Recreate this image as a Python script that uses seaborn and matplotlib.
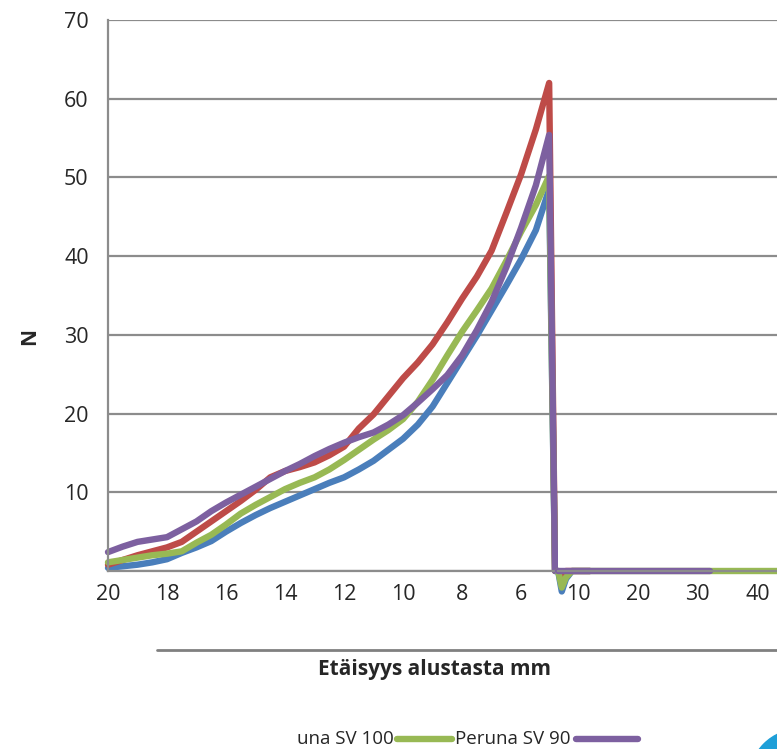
"""
Force vs. distance curves (Peruna SV), redrawn with seaborn.
Left part: distance from base (mm, decreasing), right part: continuation scale.
"""

import matplotlib
matplotlib.use('Agg')
import pandas as pd
import matplotlib.pyplot as plt
import seaborn as sns
from matplotlib.lines import Line2D
from matplotlib.patches import Ellipse

# Data (distance mm -> force N)
dist_mm = [20, 19.5, 19, 18.5, 18, 17.5, 17, 16.5, 16, 15.5, 15, 14.5, 14, 13.5, 13,
           12.5, 12, 11.5, 11, 10.5, 10, 9.5, 9, 8.5, 8, 7.5, 7, 6.5, 6, 5.5, 5.05, 4.85]
blue_n = [0.4, 0.6, 0.8, 1.1, 1.5, 2.3, 3.0, 3.8, 5.0, 6.1, 7.1, 8.0, 8.8, 9.6, 10.4,
          11.2, 11.9, 12.9, 14.0, 15.4, 16.8, 18.6, 20.9, 23.9, 26.9, 29.9, 33.1, 36.3, 39.6, 43.3, 48.5, 0.0]
red_n = [0.8, 1.4, 2.0, 2.5, 3.0, 3.7, 5.0, 6.3, 7.6, 8.9, 10.3, 11.9, 12.7, 13.2, 13.8,
         14.7, 15.8, 18.1, 19.9, 22.2, 24.5, 26.5, 28.8, 31.6, 34.6, 37.4, 40.7, 45.5, 50.4, 56.1, 62.0, 0.0]
green_n = [1.1, 1.4, 1.7, 2.0, 2.2, 2.5, 3.6, 4.6, 5.9, 7.3, 8.4, 9.4, 10.4, 11.2, 11.9,
           12.9, 14.1, 15.4, 16.7, 17.9, 19.3, 21.5, 24.3, 27.4, 30.4, 33.1, 35.9, 39.4, 43.1, 46.5, 50.2, 0.0]
purple_n = [2.4, 3.1, 3.7, 4.0, 4.3, 5.3, 6.3, 7.6, 8.7, 9.7, 10.7, 11.7, 12.7, 13.6, 14.6,
            15.5, 16.3, 17.0, 17.6, 18.6, 19.8, 21.4, 23.1, 24.9, 27.4, 30.6, 34.2, 38.6, 43.6, 49.0, 55.4, 0.0]

# continuation after the break
tail_x = [6.7, 7.3, 8.0, 9.0, 12.0]
blue_tail = [0.0, -2.6, -1.0, 0.0, 0.0]
red_tail = [0.0, -0.4, 0.0, 0.0, 0.0]
green_tail_x = [6.7, 7.3, 8.0, 9.0, 44.0]
green_tail = [0.0, -2.1, -0.8, 0.0, 0.0]
purple_tail_x = [6.7, 32.0]
purple_tail = [0.0, 0.0]

series_names = ["Peruna SV 110", "Peruna SV 100", "Peruna SV 90", "Peruna SV 80"]
series_colors = ["#4a7ebb", "#be4b48", "#98b954", "#7d60a0"]

y_ticks = [0, 10, 20, 30, 40, 50, 60, 70]
y_tick_labels = ["", "10", "20", "30", "40", "50", "60", "70"]
left_ticks = [20, 18, 16, 14, 12, 10, 8, 6]
right_ticks = [10, 20, 30, 40]
legend_labels = ["una SV 100", "Peruna SV 90"]

GRID = "#8c8c8c"
TEXT = "#262626"
LW = 4.6

sns.set_style("white")
plt.rcParams['font.family'] = ['Open Sans', 'DejaVu Sans']

# long-form tables
left_df = pd.concat([
    pd.DataFrame({"d": dist_mm, "N": vals, "sarja": name})
    for name, vals in zip(series_names, [blue_n, red_n, green_n, purple_n])
])
right_df = pd.concat([
    pd.DataFrame({"d": tail_x, "N": blue_tail, "sarja": series_names[0]}),
    pd.DataFrame({"d": tail_x, "N": red_tail, "sarja": series_names[1]}),
    pd.DataFrame({"d": green_tail_x, "N": green_tail, "sarja": series_names[2]}),
    pd.DataFrame({"d": purple_tail_x, "N": purple_tail, "sarja": series_names[3]}),
])
palette = dict(zip(series_names, series_colors))

W, H = 777, 749
fig = plt.figure(figsize=(W / 100, H / 100), dpi=100)
x0, xb, y0, y1 = 108, 558, 571, 20
ax_l = fig.add_axes([x0 / W, 1 - y0 / H, (xb - x0) / W, (y0 - y1) / H])
ax_r = fig.add_axes([xb / W, 1 - y0 / H, (W - xb) / W, (y0 - y1) / H])

sns.lineplot(data=left_df, x="d", y="N", hue="sarja", palette=palette,
             estimator=None, sort=False, linewidth=LW, legend=False, ax=ax_l)
sns.lineplot(data=right_df, x="d", y="N", hue="sarja", palette=palette,
             estimator=None, sort=False, linewidth=LW, legend=False, ax=ax_r)

for ax in (ax_l, ax_r):
    ax.set_ylim(0, 70)
    ax.set_yticks(y_ticks)
    ax.grid(axis='y', color=GRID, linewidth=1.6)
    ax.grid(axis='x', visible=False)
    ax.set_axisbelow(True)
    ax.set_xlabel("")
    ax.set_ylabel("")
    for side in ('top', 'right'):
        ax.spines[side].set_visible(False)
    ax.spines['bottom'].set_color(GRID)
    ax.spines['bottom'].set_linewidth(1.6)
    ax.tick_params(axis='x', colors=GRID, labelcolor=TEXT, labelsize=15.5,
                   length=4.5, width=1.5, direction='out', pad=5)
    ax.tick_params(axis='y', colors=GRID, labelcolor=TEXT, labelsize=15.5,
                   length=9.4, width=1.5, direction='out', pad=4.5)
    for line in ax.get_lines():
        line.set_clip_on(False)
        line.set_solid_capstyle('round')
        line.set_solid_joinstyle('round')

ax_l.set_xlim(20, 4.75)
ax_l.set_xticks(left_ticks)
ax_l.set_yticklabels(y_tick_labels)
ax_l.spines['left'].set_color(GRID)
ax_l.spines['left'].set_linewidth(1.6)

ax_r.set_xlim(6.67, 43.2)
ax_r.set_xticks(right_ticks)
ax_r.spines['left'].set_visible(False)
ax_r.tick_params(axis='y', left=False, labelleft=False)

# axis titles
fig.text(30 / W, 1 - 336 / H, "N", rotation=90, ha='center', va='center',
         fontsize=15, fontweight='bold', color=TEXT)
fig.text(435 / W, 1 - 670 / H, "Etäisyys alustasta mm", ha='center', va='center',
         fontsize=15, fontweight='bold', color=TEXT)
fig.add_artist(Line2D([157 / W, 1.0], [1 - 650 / H] * 2, color="#808080", linewidth=2))

# cut-off legend at the bottom
ly = 1 - 739 / H
fig.text(394 / W, ly, legend_labels[0], ha='right', va='center', fontsize=13.5, color=TEXT)
fig.add_artist(Line2D([397 / W, 452 / W], [ly, ly], color=series_colors[2], linewidth=LW))
fig.text(455 / W, ly, legend_labels[1], ha='left', va='center', fontsize=13.5, color=TEXT)
fig.add_artist(Line2D([576 / W, 638 / W], [ly, ly], color=series_colors[3], linewidth=LW))

# blue round badge in the corner
fig.add_artist(Ellipse((800 / W, 1 - 780 / H), 2 * 51 / W, 2 * 51 / H,
                       transform=fig.transFigure, color="#1e9fd8"))

fig.savefig("out.png", dpi=100)
